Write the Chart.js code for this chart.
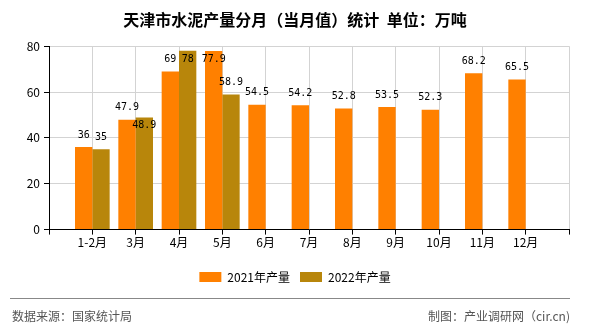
<!DOCTYPE html>
<html>
<head>
<meta charset="utf-8">
<script src="https://cdn.jsdelivr.net/npm/chart.js@4/dist/chart.umd.min.js"></script>
<style>
    html, body { margin: 0; padding: 0; background: #fff; }
    #wrap { position: relative; width: 590px; height: 330px; }
    #chart { position: absolute; left: 0; top: 0; }
    .footer-line { position: absolute; left: 10px; top: 298px; width: 560px; height: 1px; background: #888; }
    .footer-text { position: absolute; top: 308px; font: 12px "Noto Sans CJK SC", sans-serif; color: #555; line-height: 16px; }
</style>
</head>
<body>
<div id="wrap">
    <canvas id="chart" width="590" height="330"></canvas>
    <div class="footer-line"></div>
    <div class="footer-text" style="left:12px;">数据来源：国家统计局</div>
    <div class="footer-text" style="right:20px;">制图：产业调研网（cir.cn)</div>
</div>
<script>
// Monthly cement output, unit: 10k tonnes
const months = ['1-2月', '3月', '4月', '5月', '6月', '7月', '8月', '9月', '10月', '11月', '12月'];
const output2021 = [36, 47.9, 69, 77.9, 54.5, 54.2, 52.8, 53.5, 52.3, 68.2, 65.5];
const output2022 = [35, 48.9, 78, 58.9];
const yTicks = [0, 20, 40, 60, 80];

// Pad with an empty slot on each side so the axis runs edge to edge
function padSeries(values) {
    const out = [null];
    months.forEach((m, i) => out.push(values[i] !== undefined ? values[i] : null));
    out.push(null);
    return out;
}
const axisLabels = [''].concat(months, ['']);

// Value labels above bars, kept inside the plot and pushed down when they collide
const barLabels = {
    id: 'barLabels',
    afterDatasetsDraw(chart) {
        const ctx = chart.ctx;
        const area = chart.chartArea;
        ctx.save();
        ctx.font = '10px "DejaVu Sans Mono", monospace';
        ctx.fillStyle = '#000';
        ctx.textAlign = 'center';
        ctx.textBaseline = 'middle';
        const placed = [];
        chart.data.datasets.forEach((ds, di) => {
            const meta = chart.getDatasetMeta(di);
            meta.data.forEach((bar, i) => {
                const v = ds.data[i];
                if (v === null || v === undefined) return;
                const text = String(v);
                const w = ctx.measureText(text).width;
                let y = Math.max(bar.y - 12, area.top + 13);
                placed.forEach(p => {
                    if (Math.abs(p.x - bar.x) < (p.w + w) / 2 && Math.abs(p.y - y) < 12) {
                        y = p.y + 18;
                    }
                });
                placed.push({ x: bar.x, y: y, w: w });
                ctx.fillText(text, bar.x, y);
            });
        });
        ctx.restore();
    }
};

const ctx = document.getElementById('chart').getContext('2d');
const chart = new Chart(ctx, {
    type: 'bar',
    data: {
        labels: axisLabels,
        datasets: [{
            label: '2021年产量',
            data: padSeries(output2021),
            backgroundColor: '#FF8000',
            borderWidth: 0
        }, {
            label: '2022年产量',
            data: padSeries(output2022),
            backgroundColor: '#B8860B',
            borderWidth: 0
        }]
    },
    options: {
        responsive: false,
        animation: false,
        categoryPercentage: 0.8,
        barPercentage: 1.0,
        layout: {
            padding: { left: 0, right: 0, top: 0, bottom: 37 }
        },
        plugins: {
            title: {
                display: true,
                text: '天津市水泥产量分月（当月值）统计  单位：万吨',
                color: '#000',
                font: { family: '"Noto Sans CJK SC", sans-serif', size: 16, weight: 'bold' },
                padding: { top: 10, bottom: 17 }
            },
            legend: {
                position: 'bottom',
                labels: {
                    boxWidth: 22,
                    boxHeight: 10,
                    padding: 10,
                    color: '#000',
                    font: { family: '"Noto Sans CJK SC", sans-serif', size: 12 }
                }
            },
            tooltip: { enabled: false }
        },
        scales: {
            x: {
                offset: false,
                grid: {
                    offset: false,
                    color: '#d3d3d3',
                    tickColor: '#000',
                    tickLength: 5
                },
                border: { color: '#000' },
                ticks: {
                    autoSkip: false,
                    maxRotation: 0,
                    padding: 1,
                    color: '#000',
                    font: { family: '"Noto Sans CJK SC", sans-serif', size: 12 }
                },
                afterFit(scale) {
                    scale.height += 10;
                    // keep the plot clear of the right edge
                    scale.paddingRight = 21;
                }
            },
            y: {
                min: yTicks[0],
                max: yTicks[yTicks.length - 1],
                afterBuildTicks(scale) {
                    scale.ticks = yTicks.map(v => ({ value: v }));
                },
                grid: {
                    color: '#d3d3d3',
                    tickColor: '#000',
                    tickLength: 5
                },
                border: { color: '#000' },
                ticks: {
                    padding: 4,
                    color: '#000',
                    font: { family: '"Noto Sans CJK SC", sans-serif', size: 12 }
                },
                afterFit(scale) {
                    scale.width = 49;
                }
            }
        }
    },
    plugins: [barLabels]
});
</script>
</body>
</html>
